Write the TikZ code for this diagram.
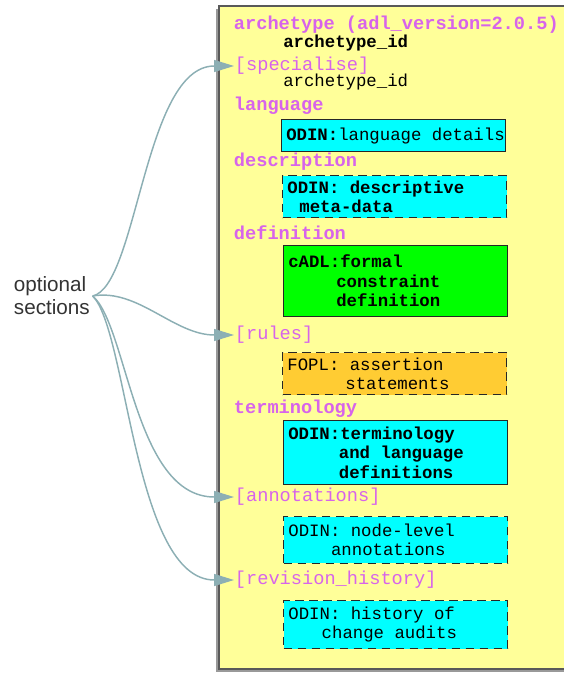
\documentclass[tikz,border=0pt]{standalone}
\usepackage{fontspec}
\setmainfont{Liberation Sans}
\setmonofont{Liberation Mono}
\usepackage{xcolor}
\usetikzlibrary{shapes, arrows.meta}

\definecolor{panelyellow}{RGB}{255,255,153}
\definecolor{headmagenta}{RGB}{215,100,235}
\definecolor{odincyan}{RGB}{0,255,255}
\definecolor{cadlgreen}{RGB}{0,255,0}
\definecolor{foplorange}{RGB}{255,204,51}
\definecolor{arrowgrey}{RGB}{140,175,180}

% monospaced text with full-width spaces
\newcommand{\monotext}[1]{\ttfamily\fontsize{#1}{1.12\dimexpr#1pt\relax}\selectfont\spaceskip=0.6em\relax}

\tikzset{
    heading/.style={anchor=west, inner sep=0.5pt, text=headmagenta, font=\monotext{14}},
    idtext/.style={anchor=west, inner sep=0pt, font=\monotext{13}},
    sectionbox/.style={anchor=north west, draw=black!85, line width=0.9pt, minimum width=168pt, inner xsep=3.5pt, inner ysep=0pt, text width=161pt, align=flush left, font=\monotext{13}},
    optbox/.style={sectionbox, line width=1.1pt, dash pattern={on 6.5pt off 4pt}},
    optarrow/.style={draw=arrowgrey, line width=1.1pt, -{Triangle[length=15pt, width=9pt]}}
}

\begin{document}
\begin{tikzpicture}[x=0.75pt,y=0.75pt,yscale=-1,xscale=1]
    \useasboundingbox (0,0) rectangle (563,673);

    % Panel
    \fill [black!40] (216,9) rectangle (575,672);
    \draw [fill=panelyellow, draw=black!65, line width=1pt] (219,6) rectangle (578,669);

    % Headings
    \node [heading] (arch) at (233,25) {\textbf{archetype (adl\_version=2.0.5)}};
    \node [idtext] (archid) at (283,43) {\textbf{archetype\_id}};
    \node [heading] (spec) at (234,66) {[specialise]};
    \node [idtext] (specid) at (283,82) {archetype\_id};
    \node [heading] (lang) at (233,106) {\textbf{language}};
    \node [heading] (desc) at (233,162) {\textbf{description}};
    \node [heading] (defn) at (233,233) {\textbf{definition}};
    \node [heading] (rules) at (234,335) {[rules]};
    \node [heading] (term) at (233,409) {\textbf{terminology}};
    \node [heading] (annot) at (234,497) {[annotations]};
    \node [heading] (revhist) at (234,580) {[revision\_history]};

    % Boxes
    \node [sectionbox, fill=odincyan, minimum height=24pt] (langbox) at (281,119) {\textbf{ODIN:}language~details};
    \node [optbox, fill=odincyan, minimum height=31.5pt] (descbox) at (282,175) {\textbf{ODIN: descriptive\\\hspace*{9pt}meta-data}};
    \node [sectionbox, fill=cadlgreen, minimum height=53pt] (defnbox) at (283,245) {\textbf{cADL:formal\\\hspace*{36pt}constraint\\\hspace*{36pt}definition}};
    \node [optbox, fill=foplorange, minimum height=31.5pt] (rulesbox) at (282,352) {FOPL: assertion\\\hspace*{43.5pt}statements};
    \node [sectionbox, fill=odincyan, minimum height=48pt] (termbox) at (283,420) {\textbf{ODIN:terminology\\\hspace*{38pt}and language\\\hspace*{38pt}definitions}};
    \node [optbox, fill=odincyan, minimum height=35pt] (annotbox) at (283,516) {ODIN: node-level\\\hspace*{32pt}annotations};
    \node [optbox, fill=odincyan, minimum height=36pt] (revbox) at (283,600) {ODIN: history of\\\hspace*{25pt}change audits};

    % Label
    \node [anchor=west, inner sep=2pt, align=left, text=black!80, font=\fontsize{15.5}{17.3}\selectfont] (opt) at (11,296) {optional\\sections};

    % Connections
    \draw [optarrow] (opt.east) .. controls +(45,-10) and +(-90,0) .. (spec.west);
    \draw [optarrow] (opt.east) .. controls +(45,-8) and +(-60,0) .. (rules.west);
    \draw [optarrow] (opt.east) .. controls +(35,30) and +(-100,0) .. (annot.west);
    \draw [optarrow] (opt.east) .. controls +(35,35) and +(-100,0) .. (revhist.west);

\end{tikzpicture}
\end{document}
